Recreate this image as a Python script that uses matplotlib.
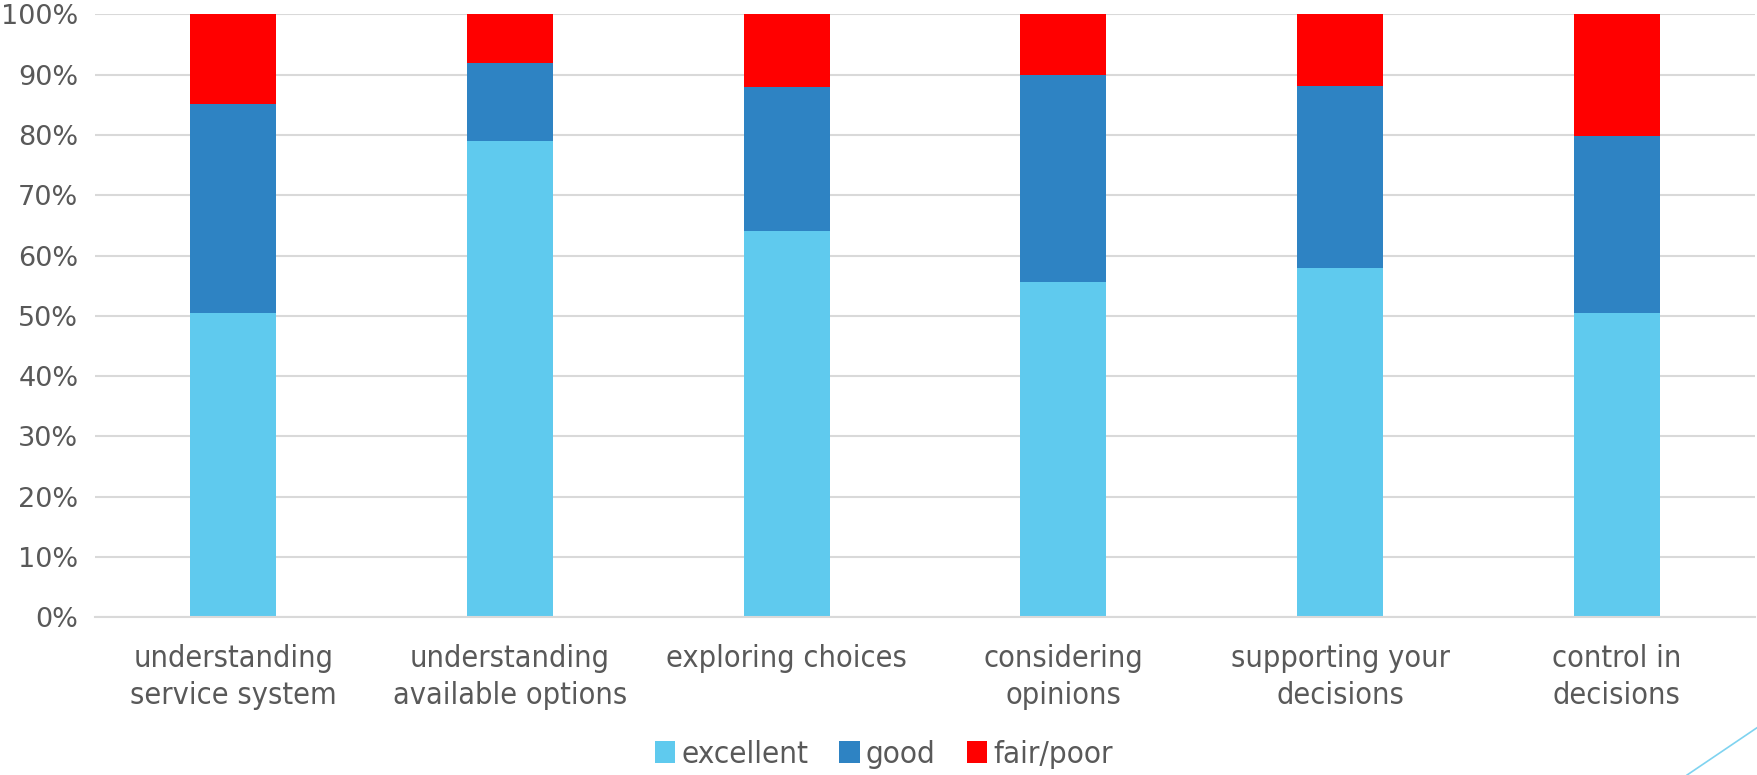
import matplotlib
matplotlib.use("Agg")
import matplotlib.pyplot as plt
from matplotlib.lines import Line2D
from matplotlib.ticker import PercentFormatter
import numpy as np

# Share of answers per aspect, in percent
CATEGORIES = [
    "understanding\nservice system",
    "understanding\navailable options",
    "exploring choices",
    "considering\nopinions",
    "supporting your\ndecisions",
    "control in\ndecisions",
]
EXCELLENT = [50.5, 79.0, 64.0, 55.6, 58.0, 50.5]
GOOD = [34.6, 13.0, 24.0, 34.3, 30.1, 29.3]
FAIR_POOR = [14.9, 8.0, 12.0, 10.1, 11.9, 20.2]

SERIES = ["excellent", "good", "fair/poor"]
COLORS = ["#5FCAEE", "#2E83C3", "#FF0000"]
TEXT_GRAY = "#595959"
GRID_GRAY = "#D9D9D9"

plt.rcParams["font.family"] = ["DejaVu Sans"]

fig = plt.figure(figsize=(17.57, 7.75), dpi=100)
ax = fig.add_axes([0.0541, 0.2035, 0.9448, 0.778])

x = np.arange(len(CATEGORIES))
bottom = np.zeros(len(CATEGORIES))
for name, values, color in zip(SERIES, [EXCELLENT, GOOD, FAIR_POOR], COLORS):
    ax.bar(x, values, width=0.311, bottom=bottom, color=color, label=name,
           zorder=3)
    bottom += np.array(values)

ax.set_xlim(-0.5, len(CATEGORIES) - 0.5)
ax.set_ylim(0, 100)
ax.set_yticks(np.arange(0, 101, 10))
ax.yaxis.set_major_formatter(PercentFormatter(decimals=0))
ax.grid(axis="y", color=GRID_GRAY, linewidth=1.5, zorder=0)

for side in ["top", "right", "left"]:
    ax.spines[side].set_visible(False)
ax.spines["bottom"].set_color(GRID_GRAY)
ax.spines["bottom"].set_linewidth(1.5)
ax.spines["bottom"].set_zorder(4)

ax.tick_params(axis="both", length=0, colors=TEXT_GRAY)
ax.tick_params(axis="y", labelsize=19.5, pad=12)
ax.tick_params(axis="x", labelsize=22, pad=19)
ax.set_xticks(x)
ax.set_xticklabels(CATEGORIES, fontstretch="condensed", linespacing=1.35)

fig.legend(loc="center", bbox_to_anchor=(0.503, 0.026), ncol=3,
           frameon=False, handlelength=0.65, handleheight=0.7,
           handletextpad=0.2, columnspacing=1.0,
           prop={"size": 22.5, "stretch": "condensed"}, labelcolor=TEXT_GRAY)

# thin accent stroke in the lower right corner
fig.add_artist(Line2D([0.9602, 1.0], [0.0, 0.061], color="#7FD3F0",
                      linewidth=1.2, transform=fig.transFigure))

fig.savefig("out.png", dpi=100)
